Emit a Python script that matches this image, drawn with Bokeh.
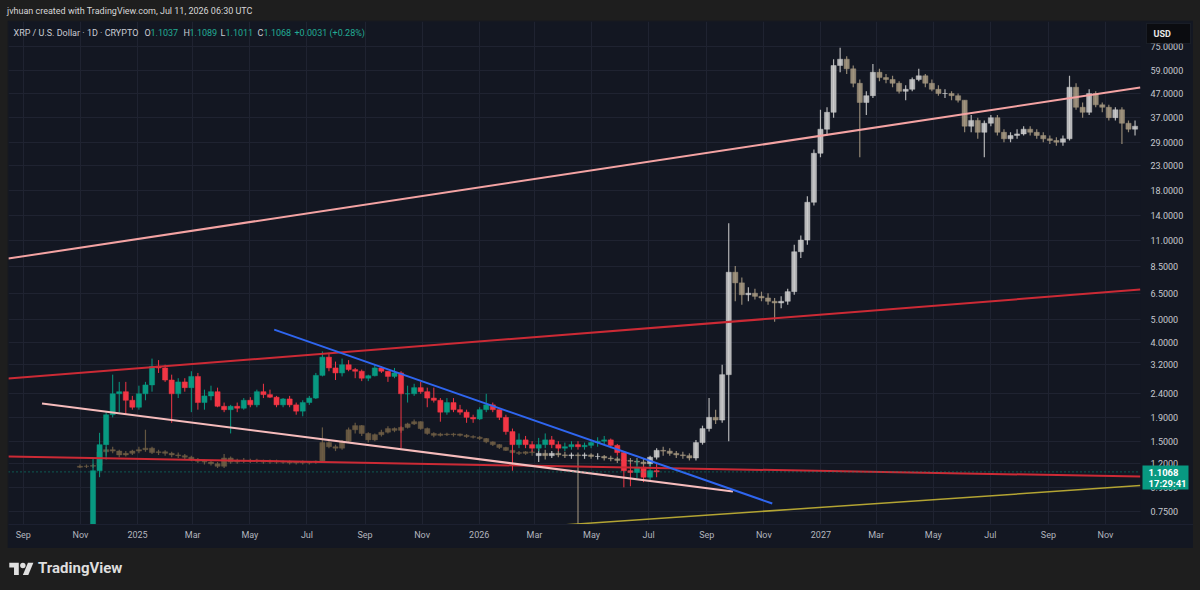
import math
import pandas as pd
from bokeh.plotting import figure
from bokeh.models import (Range1d, FixedTicker, CustomJSTickFormatter, PrintfTickFormatter,
                          Label, Div, Spacer, ColumnDataSource, BoxAnnotation)
from bokeh.layouts import column, row
from bokeh.embed import file_html
from bokeh.resources import INLINE

# ---------------- data ----------------
# XRP weekly candles, first week starting 2024-08-19
xrp_start = "2024-08-19"
xrp_open = [0.57, 0.59, 0.56, 0.56, 0.58, 0.59, 0.64, 0.53, 0.54, 0.55, 0.52, 0.51, 0.59, 1.12, 1.45, 1.95, 2.40, 2.45, 2.25, 2.10,
            2.40, 2.62, 3.15, 3.10, 2.75, 2.40, 2.70, 2.55, 2.85, 2.20, 2.35, 2.45, 2.12, 2.05, 2.12, 2.08, 2.25, 2.15, 2.45, 2.38,
            2.32, 2.15, 2.28, 2.15, 2.02, 2.20, 2.30, 2.88, 3.45, 3.10, 2.95, 3.20, 3.05, 3.00, 2.80, 2.87, 3.10, 3.00, 2.85, 2.95,
            2.40, 2.40, 2.55, 2.45, 2.30, 2.25, 2.00, 2.20, 2.05, 2.00, 1.90, 1.87, 2.05, 2.15, 2.05, 1.90, 1.65, 1.45, 1.52, 1.45,
            1.40, 1.45, 1.52, 1.45, 1.40, 1.42, 1.45, 1.42, 1.44, 1.48, 1.50, 1.52, 1.44, 1.34, 1.12, 1.10, 1.16, 1.05, 1.12]
xrp_high = [0.60, 0.60, 0.58, 0.59, 0.60, 0.66, 0.64, 0.55, 0.56, 0.55, 0.53, 0.60, 1.27, 1.63, 2.00, 2.90, 2.70, 2.70, 2.35, 2.60,
            2.70, 3.40, 3.35, 3.20, 2.90, 2.80, 2.80, 3.00, 2.95, 2.50, 2.60, 2.55, 2.20, 2.15, 2.20, 2.30, 2.32, 2.50, 2.65, 2.50,
            2.35, 2.30, 2.35, 2.20, 2.25, 2.35, 2.95, 3.65, 3.60, 3.30, 3.40, 3.35, 3.10, 3.05, 2.90, 3.20, 3.15, 3.00, 3.10, 3.00,
            2.60, 2.65, 2.70, 2.55, 2.55, 2.30, 2.30, 2.30, 2.15, 2.05, 1.95, 2.10, 2.40, 2.20, 2.05, 1.95, 1.70, 1.62, 1.58, 1.50,
            1.55, 1.62, 1.58, 1.50, 1.48, 1.50, 1.50, 1.48, 1.52, 1.56, 1.58, 1.54, 1.46, 1.36, 1.20, 1.25, 1.18, 1.20, 1.20]
xrp_low = [0.55, 0.55, 0.53, 0.55, 0.57, 0.58, 0.51, 0.52, 0.53, 0.50, 0.50, 0.50, 0.58, 1.05, 1.25, 1.90, 2.00, 1.95, 2.05, 2.05,
           2.25, 2.45, 2.95, 2.70, 1.80, 2.30, 2.45, 2.00, 2.05, 2.05, 2.25, 2.10, 2.00, 1.62, 2.00, 2.05, 2.10, 2.10, 2.30, 2.30,
           2.10, 2.10, 2.10, 1.95, 1.92, 2.15, 2.28, 2.85, 3.00, 2.75, 2.85, 3.00, 2.80, 2.72, 2.72, 2.85, 2.95, 2.70, 2.80, 1.40,
           2.20, 2.35, 2.40, 2.10, 2.20, 1.82, 1.95, 2.00, 1.95, 1.80, 1.80, 1.85, 2.00, 2.00, 1.85, 1.60, 1.12, 1.40, 1.40, 1.35,
           1.36, 1.40, 1.40, 1.36, 1.36, 1.38, 1.38, 1.38, 1.40, 1.42, 1.44, 1.40, 1.30, 0.95, 0.96, 1.04, 1.00, 1.02, 1.05]
xrp_close = [0.59, 0.56, 0.56, 0.58, 0.59, 0.64, 0.53, 0.54, 0.55, 0.52, 0.51, 0.59, 1.12, 1.45, 1.95, 2.40, 2.45, 2.25, 2.10, 2.40,
             2.62, 3.15, 3.10, 2.75, 2.40, 2.70, 2.55, 2.85, 2.20, 2.35, 2.45, 2.12, 2.05, 2.12, 2.08, 2.25, 2.15, 2.45, 2.38, 2.32,
             2.15, 2.28, 2.15, 2.02, 2.20, 2.30, 2.88, 3.45, 3.10, 2.95, 3.20, 3.05, 3.00, 2.80, 2.87, 3.10, 3.00, 2.85, 2.95, 2.40,
             2.40, 2.55, 2.45, 2.30, 2.25, 2.00, 2.20, 2.05, 2.00, 1.90, 1.87, 2.05, 2.15, 2.05, 1.90, 1.65, 1.45, 1.52, 1.45, 1.40,
             1.45, 1.52, 1.45, 1.40, 1.42, 1.45, 1.42, 1.44, 1.48, 1.50, 1.52, 1.44, 1.34, 1.12, 1.10, 1.16, 1.05, 1.12, 1.1068]

# tan fractal overlay (weekly), first week starting 2024-10-28
tan_start = "2024-10-28"
tan_open = [1.16, 1.17, 1.17, 1.18, 1.35, 1.38, 1.36, 1.31, 1.33, 1.36, 1.38, 1.40, 1.34, 1.35, 1.33, 1.31, 1.30, 1.28, 1.25, 1.23,
            1.22, 1.20, 1.17, 1.27, 1.22, 1.24, 1.23, 1.24, 1.23, 1.22, 1.23, 1.22, 1.22, 1.21, 1.22, 1.21, 1.22, 1.23, 1.48, 1.42,
            1.40, 1.50, 1.68, 1.75, 1.62, 1.52, 1.60, 1.64, 1.70, 1.67, 1.72, 1.78, 1.82, 1.70, 1.62, 1.59, 1.61, 1.60, 1.61, 1.59,
            1.57, 1.56, 1.54, 1.49, 1.45, 1.41, 1.37, 1.34, 1.33, 1.35]
tan_high = [1.19, 1.19, 1.20, 1.40, 1.42, 1.42, 1.38, 1.36, 1.38, 1.42, 1.68, 1.42, 1.38, 1.37, 1.35, 1.34, 1.32, 1.30, 1.27, 1.25,
            1.24, 1.22, 1.32, 1.29, 1.26, 1.27, 1.26, 1.26, 1.25, 1.25, 1.25, 1.24, 1.24, 1.23, 1.24, 1.23, 1.24, 1.72, 1.52, 1.45,
            1.52, 1.72, 1.80, 1.76, 1.64, 1.62, 1.68, 1.74, 1.72, 1.74, 1.80, 1.86, 1.83, 1.72, 1.64, 1.63, 1.63, 1.63, 1.62, 1.61,
            1.59, 1.58, 1.55, 1.50, 1.46, 1.42, 1.38, 1.36, 1.36, 1.37]
tan_low = [1.15, 1.15, 1.15, 1.17, 1.30, 1.33, 1.28, 1.29, 1.31, 1.33, 1.35, 1.32, 1.31, 1.30, 1.28, 1.27, 1.25, 1.23, 1.21, 1.19,
           1.18, 1.15, 1.15, 1.20, 1.20, 1.21, 1.21, 1.21, 1.20, 1.20, 1.20, 1.20, 1.19, 1.19, 1.19, 1.19, 1.20, 1.22, 1.40, 1.36,
           1.38, 1.48, 1.62, 1.58, 1.48, 1.50, 1.57, 1.62, 1.64, 1.63, 1.70, 1.76, 1.68, 1.60, 1.56, 1.57, 1.58, 1.57, 1.57, 1.55,
           1.54, 1.52, 1.47, 1.43, 1.39, 1.36, 1.32, 1.31, 1.31, 1.30]
tan_close = [1.17, 1.17, 1.18, 1.35, 1.38, 1.36, 1.31, 1.33, 1.36, 1.38, 1.40, 1.34, 1.35, 1.33, 1.31, 1.30, 1.28, 1.25, 1.23, 1.22,
             1.20, 1.17, 1.27, 1.22, 1.24, 1.23, 1.24, 1.23, 1.22, 1.23, 1.22, 1.22, 1.21, 1.22, 1.21, 1.22, 1.23, 1.48, 1.42, 1.40,
             1.50, 1.68, 1.75, 1.62, 1.52, 1.60, 1.64, 1.70, 1.67, 1.72, 1.78, 1.82, 1.70, 1.62, 1.59, 1.61, 1.60, 1.61, 1.59, 1.57,
             1.56, 1.54, 1.49, 1.45, 1.41, 1.37, 1.34, 1.33, 1.35, 1.34]

# projected (ghost) bars pattern, weekly, first week starting 2026-03-02
ghost_start = "2026-03-02"
ghost_open = [1.30, 1.33, 1.30, 1.33, 1.31, 1.30, 1.31, 1.30, 1.31, 1.29, 1.29, 1.27, 1.26, 1.24, 1.24, 1.23, 1.22, 1.20, 1.28, 1.37,
              1.36, 1.33, 1.31, 1.30, 1.27, 1.48, 1.70, 1.90, 1.85, 2.90, 8.0, 7.2, 6.4, 6.5, 6.3, 6.2, 6.0, 5.9, 6.0, 6.6,
              9.8, 11.0, 16.0, 26.0, 33.0, 39.0, 62.0, 66.0, 60.0, 52.0, 43.0, 46.0, 58.0, 55.0, 54.0, 52.0, 48.0, 49.0, 54.0, 56.0,
              52.0, 49.0, 47.0, 47.0, 46.0, 44.0, 34.0, 36.0, 32.0, 35.0, 37.0, 32.0, 30.0, 31.0, 31.5, 33.0, 32.0, 31.0, 30.0, 29.5,
              29.0, 30.0, 50.0, 41.0, 39.0, 47.0, 42.0, 41.0, 37.0, 40.0, 35.0, 33.0]
ghost_high = [1.40, 1.38, 1.36, 1.36, 1.35, 1.34, 1.34, 1.34, 1.33, 1.33, 1.31, 1.30, 1.29, 1.28, 1.27, 1.27, 1.26, 1.30, 1.40, 1.42,
              1.40, 1.36, 1.35, 1.33, 1.52, 1.75, 2.30, 2.05, 3.20, 13.0, 8.5, 7.6, 6.9, 6.8, 6.6, 6.5, 6.2, 6.3, 6.8, 10.5,
              11.5, 17.0, 27.0, 40.0, 41.0, 66.0, 74.0, 68.0, 62.0, 54.0, 48.0, 63.0, 60.0, 57.0, 56.0, 53.0, 51.0, 55.0, 60.0, 57.0,
              54.0, 51.0, 49.0, 48.0, 47.0, 44.0, 38.0, 37.0, 36.0, 38.0, 38.0, 33.0, 32.0, 33.0, 34.0, 34.0, 33.0, 32.0, 31.0, 30.5,
              31.0, 56.0, 52.0, 43.0, 49.0, 48.0, 43.0, 42.0, 41.0, 41.0, 36.0, 36.0]
ghost_low = [1.22, 1.25, 1.27, 1.28, 1.27, 1.26, 0.66, 1.26, 1.26, 1.25, 1.24, 1.23, 1.21, 1.20, 1.19, 1.18, 1.17, 1.17, 1.25, 1.30,
             1.30, 1.27, 1.26, 1.24, 1.24, 1.45, 1.65, 1.78, 1.80, 1.50, 6.0, 5.8, 6.0, 6.1, 6.0, 5.8, 4.9, 5.6, 5.8, 6.4,
             9.2, 10.5, 15.5, 25.0, 31.0, 37.0, 58.0, 57.0, 50.0, 25.0, 38.0, 45.0, 53.0, 52.0, 50.0, 47.0, 44.0, 48.0, 53.0, 50.0,
             48.0, 46.0, 45.0, 44.0, 43.0, 32.0, 32.0, 30.0, 25.0, 34.0, 31.0, 29.0, 29.0, 30.0, 31.0, 31.0, 30.0, 29.0, 28.5, 28.0,
             28.0, 29.5, 40.0, 37.0, 38.0, 41.0, 39.0, 36.0, 36.0, 28.5, 32.0, 31.0]
ghost_close = [1.33, 1.30, 1.33, 1.31, 1.30, 1.31, 1.30, 1.31, 1.29, 1.29, 1.27, 1.26, 1.24, 1.24, 1.23, 1.22, 1.20, 1.28, 1.37, 1.36,
               1.33, 1.31, 1.30, 1.27, 1.48, 1.70, 1.90, 1.85, 2.90, 8.0, 7.2, 6.4, 6.5, 6.3, 6.2, 6.0, 5.9, 6.0, 6.6, 9.8,
               11.0, 16.0, 26.0, 33.0, 39.0, 62.0, 66.0, 60.0, 52.0, 43.0, 46.0, 58.0, 55.0, 54.0, 52.0, 48.0, 49.0, 54.0, 56.0, 52.0,
               49.0, 47.0, 47.0, 46.0, 44.0, 34.0, 36.0, 32.0, 35.0, 37.0, 32.0, 30.0, 31.0, 31.5, 33.0, 32.0, 31.0, 30.0, 29.5, 29.0,
               30.0, 50.0, 41.0, 39.0, 47.0, 42.0, 41.0, 37.0, 40.0, 35.0, 33.0, 34.0]

# trend lines (end points)
pink_upper_dates = ["2024-08-16", "2027-12-08"]
pink_upper_vals = [9.16, 49.9]
red_upper_dates = ["2024-08-16", "2027-12-08"]
red_upper_vals = [2.79, 6.74]
red_lower_dates = ["2024-08-16", "2027-12-08"]
red_lower_vals = [1.289, 1.057]
blue_dates = ["2025-05-27", "2026-11-10"]
blue_vals = [4.53, 0.809]
pink_lower_dates = ["2024-09-21", "2026-09-29"]
pink_lower_vals = [2.18, 0.911]
yellow_dates = ["2026-03-31", "2027-12-08"]
yellow_vals = [0.654, 0.967]

last_price = 1.1068
last_price_label = "1.1068"
countdown_label = "17:29:41"

y_ticks = [0.75, 0.95, 1.2, 1.5, 1.9, 2.4, 3.2, 4.0, 5.0, 6.5, 8.5, 11.0, 14.0, 18.0, 23.0, 29.0, 37.0, 47.0, 59.0, 75.0]
x_tick_dates = ["2024-09-01", "2024-11-01", "2025-01-01", "2025-03-01", "2025-05-01", "2025-07-01", "2025-09-01",
                "2025-11-01", "2026-01-01", "2026-03-01", "2026-05-01", "2026-07-01", "2026-09-01", "2026-11-01",
                "2027-01-01", "2027-03-01", "2027-05-01", "2027-07-01", "2027-09-01", "2027-11-01"]

# ---------------- styling ----------------
BG = "#131722"
PAGE = "#1e1e1e"
GRID = "#1f2331"
UP = "#089981"
DOWN = "#f23645"
FONT = "Roboto"

# pane spans page x 8..1140 ; price scale 1140..1193 ; y 21..524
X_START = pd.Timestamp("2024-08-16 05:00")
X_END = pd.Timestamp("2027-12-08 08:00")
Y_LO, Y_HI = 0.6573, 95.9
PANE_L, PANE_R, PANE_T, PANE_B = 8, 1140, 21, 524
SCALE_R = 1193


def sx_ts(px):
    return X_START + (X_END - X_START) * ((px - PANE_L) / (PANE_R - PANE_L))


def sx(px):
    return sx_ts(px).value / 1e6


def sy(py):
    lh, ll = math.log(Y_HI), math.log(Y_LO)
    return math.exp(lh - (py - PANE_T) / (PANE_B - PANE_T) * (lh - ll))


def ms(d):
    return pd.Timestamp(d).value / 1e6


p = figure(width=1186, height=528, x_axis_type="datetime", y_axis_type="log", y_axis_location="right",
           x_range=Range1d(X_START, sx_ts(SCALE_R)), y_range=Range1d(Y_LO, Y_HI),
           output_backend="svg", toolbar_location=None,
           background_fill_color=BG, border_fill_color=BG, outline_line_color=None,
           min_border_left=1, min_border_top=1, min_border_right=0, min_border_bottom=24)

yt = FixedTicker(ticks=y_ticks)
xt = FixedTicker(ticks=[ms(d) for d in x_tick_dates])
p.yaxis.ticker = yt
p.ygrid.ticker = yt
p.xaxis.ticker = xt
p.xgrid.ticker = xt
p.yaxis.formatter = PrintfTickFormatter(format="%.4f")
p.xaxis.formatter = CustomJSTickFormatter(code="""
const d = new Date(tick);
const m = d.getUTCMonth();
const names = ["Jan","Feb","Mar","Apr","May","Jun","Jul","Aug","Sep","Oct","Nov","Dec"];
return m == 0 ? String(d.getUTCFullYear()) : names[m];
""")
for ax in (p.xaxis[0], p.yaxis[0]):
    ax.major_tick_line_color = None
    ax.minor_tick_line_color = None
    ax.major_tick_out = 0
    ax.major_tick_in = 0
    ax.major_label_text_font = FONT
    ax.major_label_text_font_size = "9px"
p.xaxis.axis_line_color = "#1c2030"
p.yaxis.axis_line_color = None
p.yaxis.major_label_text_color = "#c6c8cf"
p.xaxis.major_label_text_color = "#b2b5be"
# price-scale labels sit inside the right strip of the panel (page x ~1150)
p.yaxis.major_label_standoff = -(SCALE_R - 1150)
p.xaxis.major_label_standoff = 5
p.xgrid.grid_line_color = GRID
p.ygrid.grid_line_color = GRID

# price-scale strip: no grid there
p.add_layout(BoxAnnotation(left=sx(PANE_R), fill_color=BG, fill_alpha=1.0, line_color=None, level="underlay"))


def add_bars(start, o, h, l, c, up, down, width_days, alpha, wick_w):
    t = list(pd.date_range(start, periods=len(c), freq="7D") + pd.Timedelta(hours=84))
    col = [up if cc >= oo else down for oo, cc in zip(o, c)]
    src = ColumnDataSource(dict(t=t, h=h, l=l,
                                top=[max(a, b) for a, b in zip(o, c)],
                                bot=[min(a, b) for a, b in zip(o, c)], col=col))
    p.segment(x0="t", y0="l", x1="t", y1="h", source=src, line_color="col",
              line_width=wick_w, line_alpha=alpha)
    p.vbar(x="t", width=width_days * 86400000, top="top", bottom="bot", source=src,
           fill_color="col", line_color="col", fill_alpha=alpha, line_alpha=alpha, line_width=0.5)


add_bars(tan_start, tan_open, tan_high, tan_low, tan_close, "#6e5d45", "#6e5d45", 5.5, 0.9, 1.2)
add_bars(ghost_start, ghost_open, ghost_high, ghost_low, ghost_close, "#d0d0d0", "#a89a82", 5.5, 0.85, 1.2)
add_bars(xrp_start, xrp_open, xrp_high, xrp_low, xrp_close, UP, DOWN, 5.5, 1.0, 1.0)


def add_line(dates, vals, color, w):
    p.line(x=[pd.Timestamp(d) for d in dates], y=vals, line_color=color, line_width=w)


add_line(pink_upper_dates, pink_upper_vals, "#f4a3a3", 2)
add_line(red_upper_dates, red_upper_vals, "#cc2a35", 2)
add_line(red_lower_dates, red_lower_vals, "#cc2a35", 2)
add_line(pink_lower_dates, pink_lower_vals, "#f6bcbc", 2)
add_line(blue_dates, blue_vals, "#2f66f0", 2)
add_line(yellow_dates, yellow_vals, "#b3a433", 1.5)

# dotted last-price line across the pane
p.segment(x0=[X_START], x1=[X_END], y0=[last_price], y1=[last_price],
          line_color=UP, line_dash="1 3", line_width=1)

# legend row (top-left)
legend_parts = [(13, "XRP / U.S. Dollar · 1D · CRYPTO", "#c9cbd2"),
                (144, "O", "#c9cbd2"), (150, "1.1037", "#22ab94"),
                (183, "H", "#c9cbd2"), (189, "1.1089", "#22ab94"),
                (220, "L", "#c9cbd2"), (225, "1.1011", "#22ab94"),
                (257, "C", "#c9cbd2"), (263, "1.1068", "#22ab94"),
                (294, "+0.0031 (+0.28%)", "#22ab94")]
for px, txt, colr in legend_parts:
    p.add_layout(Label(x=sx(px), y=sy(32), text=txt, text_color=colr, text_font=FONT,
                       text_font_size="9px", text_align="left", text_baseline="middle", level="overlay"))

# currency box on the price scale
p.add_layout(BoxAnnotation(left=sx(1146), right=sx(1190), top=sy(23), bottom=sy(43),
                           fill_color="#0b0c10", fill_alpha=1.0, line_color="#363a45", line_width=1,
                           level="overlay"))
p.add_layout(Label(x=sx(1153), y=sy(33), text="USD", text_color="#e8e8e8", text_font=FONT,
                   text_font_size="9px", text_font_style="bold", text_align="left", text_baseline="middle",
                   level="overlay"))

# last price box
p.add_layout(BoxAnnotation(left=sx(1142), right=sx(1188), top=sy(465), bottom=sy(489),
                           fill_color=UP, fill_alpha=1.0, line_color=None, level="overlay"))
p.add_layout(Label(x=sx(1148), y=sy(471.5), text=last_price_label, text_color="#ffffff", text_font=FONT,
                   text_font_size="9.5px", text_font_style="bold", text_align="left", text_baseline="middle",
                   level="overlay"))
p.add_layout(Label(x=sx(1148), y=sy(482.5), text=countdown_label, text_color="#ffffff", text_font=FONT,
                   text_font_size="9.5px", text_font_style="bold", text_align="left", text_baseline="middle",
                   level="overlay"))

header = Div(text='<div style="font-family:Roboto,sans-serif;font-size:9px;color:#d6d6d6;'
                  'padding-left:7px;line-height:22px;white-space:nowrap">'
                  'jvhuan created with TradingView.com, Jul 11, 2026 06:30 UTC</div>',
             width=1200, height=20, margin=0)

footer = Div(text='<div style="display:flex;align-items:center;height:42px;padding-left:9px;">'
                  '<svg width="25" height="19" viewBox="0 0 36 28">'
                  '<path d="M14 22H7V11H0V4h14v18z" fill="#e0e0e0"/>'
                  '<circle cx="20" cy="8" r="4" fill="#e0e0e0"/>'
                  '<path d="M28 22h-8l7.5-18h8z" fill="#e0e0e0"/></svg>'
                  '<span style="font-family:Roboto,sans-serif;font-weight:700;font-size:15px;'
                  'color:#dedede;margin-left:4px">TradingView</span></div>',
             width=1200, height=42, margin=0)

body = row(Spacer(width=7, height=528), p, Spacer(width=7, height=528), width=1200, height=528)
layout = column(header, body, footer, width=1200, height=590, styles={"background-color": PAGE})

open("out.html", "w").write(file_html(layout, INLINE))
